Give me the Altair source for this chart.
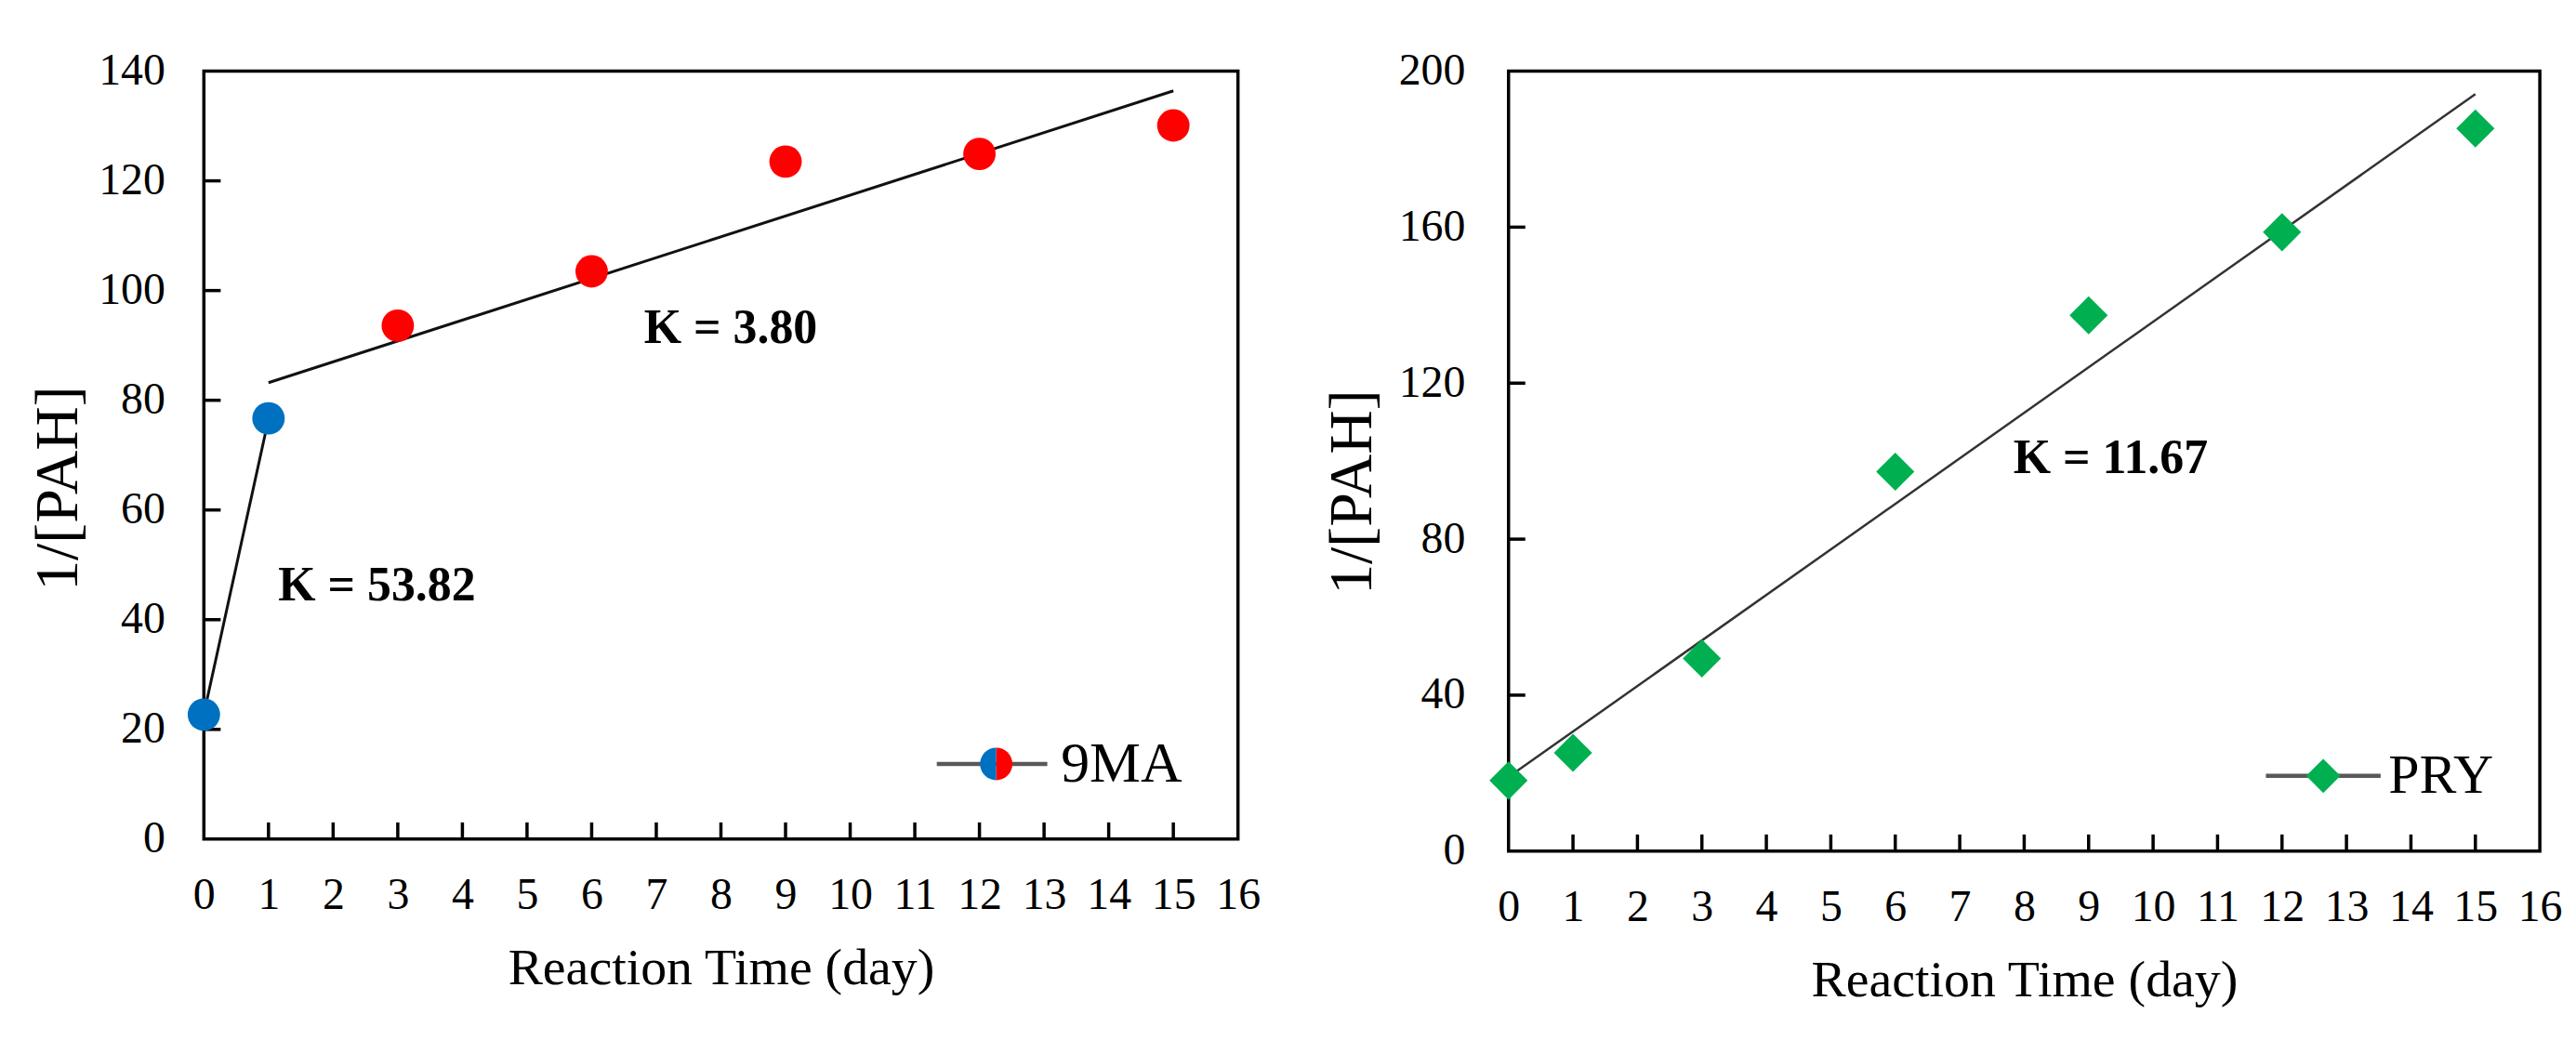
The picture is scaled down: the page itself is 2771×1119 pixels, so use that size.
import altair as alt
import pandas as pd

# values
DAYS = [0, 1, 3, 6, 9, 12, 15]
MA9 = [22.7, 76.7, 93.6, 103.5, 123.5, 124.9, 130.1]
MA9_STAGE = ["fast", "fast", "slow", "slow", "slow", "slow", "slow"]
PRY = [18.1, 25.2, 49.4, 97.3, 137.4, 158.7, 185.3]

MA9_FAST_FIT_X = [0, 1]
MA9_FAST_FIT_Y = [22.8, 76.6]
MA9_SLOW_FIT_X = [1, 15]
MA9_SLOW_FIT_Y = [83.2, 136.4]
PRY_FIT_X = [0, 15]
PRY_FIT_Y = [19.0, 194.1]

X_TICKS = list(range(0, 17))
MA9_Y_TICKS = list(range(0, 141, 20))
PRY_Y_TICKS = list(range(0, 201, 40))

SERIF = "Liberation Serif"
BLUE = "#0070C0"
RED = "#FF0000"
GREEN = "#00B050"
LEFT_HALF = "M0,-1A1,1,0,0,0,0,1Z"
RIGHT_HALF = "M0,-1A1,1,0,0,1,0,1Z"


def x_axis():
    return alt.Axis(
        values=X_TICKS, format="d", title="Reaction Time (day)", ticks=False,
        tickSize=0, domain=False, grid=False, labelFont=SERIF,
        labelFontSize=48, labelColor="black", labelPadding=75,
        labelBaseline="alphabetic", labelFlush=False, labelOverlap=False,
        titleFont=SERIF, titleFontSize=56, titleFontWeight="normal",
        titleColor="black", titleBaseline="alphabetic", titleY=156,
    )


def y_axis(values, label_pad, title_x, title_y):
    return alt.Axis(
        values=values, format="d", title="1/[PAH]", ticks=False, tickSize=0,
        domain=False, grid=False, labelFont=SERIF, labelFontSize=48,
        labelColor="black", labelPadding=label_pad, labelFlush=False,
        labelOverlap=False, titleFont=SERIF, titleFontSize=66,
        titleFontWeight="normal", titleColor="black", titleAngle=-90,
        titleBaseline="middle", titleAlign="center", titleX=title_x,
        titleY=title_y,
    )


def frame_ticks(x_sc, y_sc, y_values, height, label_pad, title_x, title_y):
    # inward ticks drawn as short line segments; the first two layers carry the axes
    xt = alt.Chart(pd.DataFrame({"day": X_TICKS[1:-1]})).mark_rule(
        color="black", strokeWidth=3.5
    ).encode(
        x=alt.X("day:Q", scale=x_sc, axis=x_axis()),
        y=alt.value(height), y2=alt.value(height - 18),
    )
    y_holder = alt.Chart(pd.DataFrame({"v": [y_values[0], y_values[-1]]})).mark_point(
        opacity=0
    ).encode(
        y=alt.Y("v:Q", scale=y_sc, axis=y_axis(y_values, label_pad, title_x, title_y)),
        x=alt.value(0),
    )
    # each y tick is a segment from day 0 to day 0.26 at a constant value
    inner = y_values[1:-1]
    yt = alt.Chart(pd.DataFrame({
        "day": [0.0] * len(inner), "day2": [0.26] * len(inner),
        "v": inner, "v2": inner,
    })).mark_rule(color="black", strokeWidth=3.5).encode(
        x="day:Q", x2="day2:Q", y="v:Q", y2="v2:Q",
    )
    return [xt, y_holder, yt]


def fit_line(xs, ys, color, width):
    return alt.Chart(pd.DataFrame({"day": xs, "v": ys})).mark_line(
        color=color, strokeWidth=width
    ).encode(x="day:Q", y="v:Q")


def k_label(x, y, text):
    return alt.Chart(pd.DataFrame({"day": [x], "v": [y], "s": [text]})).mark_text(
        font=SERIF, fontSize=52, fontWeight="bold", align="left",
        baseline="middle", color="black"
    ).encode(x="day:Q", y="v:Q", text="s:N")


# ---- 9MA panel
W1, H1 = 1116, 829
x1 = alt.Scale(domain=[0, 16], nice=False, zero=False)
y1 = alt.Scale(domain=[0, 140], nice=False)

ma9 = pd.DataFrame({"day": DAYS, "v": MA9, "stage": MA9_STAGE})
ma9_points = alt.Chart(ma9).mark_point(filled=True, opacity=1, size=1225).encode(
    x="day:Q",
    y="v:Q",
    color=alt.Color("stage:N", scale=alt.Scale(domain=["fast", "slow"], range=[BLUE, RED]), legend=None),
)

ma9_key_line = alt.Chart(pd.DataFrame({"day": [11.34, 13.05], "v": [13.7, 13.7]})).mark_line(
    color="#595959", strokeWidth=4.5
).encode(x="day:Q", y="v:Q")
key_pt = pd.DataFrame({"day": [12.26], "v": [13.7]})
ma9_key_left = alt.Chart(key_pt).mark_point(
    shape=LEFT_HALF, filled=True, opacity=1, size=1225, color=BLUE
).encode(x="day:Q", y="v:Q")
ma9_key_right = alt.Chart(key_pt).mark_point(
    shape=RIGHT_HALF, filled=True, opacity=1, size=1225, color=RED
).encode(x="day:Q", y="v:Q")
ma9_key_text = alt.Chart(pd.DataFrame({"day": [13.26], "v": [13.7], "s": ["9MA"]})).mark_text(
    font=SERIF, fontSize=62, align="left", baseline="middle", color="black"
).encode(x="day:Q", y="v:Q", text="s:N")

left = alt.layer(
    *frame_ticks(x1, y1, MA9_Y_TICKS, H1, 42, -157, 450),
    fit_line(MA9_FAST_FIT_X, MA9_FAST_FIT_Y, "#111111", 3),
    fit_line(MA9_SLOW_FIT_X, MA9_SLOW_FIT_Y, "#111111", 3),
    ma9_points,
    k_label(6.81, 93.2, "K = 3.80"),
    k_label(1.15, 46.3, "K = 53.82"),
    ma9_key_line, ma9_key_left, ma9_key_right, ma9_key_text,
).properties(width=W1, height=H1)

# ---- PRY panel
W2, H2 = 1113, 842
x2 = alt.Scale(domain=[0, 16], nice=False, zero=False)
y2 = alt.Scale(domain=[0, 200], nice=False)

pry = pd.DataFrame({"day": DAYS, "v": PRY})
pry_points = alt.Chart(pry).mark_point(
    shape="diamond", filled=True, opacity=1, size=1700, color=GREEN
).encode(x="day:Q", y="v:Q")

pry_key_line = alt.Chart(pd.DataFrame({"day": [11.75, 13.53], "v": [19.3, 19.3]})).mark_line(
    color="#595959", strokeWidth=4.5
).encode(x="day:Q", y="v:Q")
pry_key_pt = alt.Chart(pd.DataFrame({"day": [12.64], "v": [19.3]})).mark_point(
    shape="diamond", filled=True, opacity=1, size=1369, color=GREEN
).encode(x="day:Q", y="v:Q")
pry_key_text = alt.Chart(pd.DataFrame({"day": [13.65], "v": [19.3], "s": ["PRY"]})).mark_text(
    font=SERIF, fontSize=60, align="left", baseline="middle", color="black"
).encode(x="day:Q", y="v:Q", text="s:N")

right = alt.layer(
    *frame_ticks(x2, y2, PRY_Y_TICKS, H2, 47, -169, 454),
    fit_line(PRY_FIT_X, PRY_FIT_Y, "#333333", 2.5),
    pry_points,
    k_label(7.83, 100.7, "K = 11.67"),
    pry_key_line, pry_key_pt, pry_key_text,
).properties(width=W2, height=H2)

chart = (
    alt.hconcat(left, right, spacing=62)
    .configure(padding={"left": 20, "top": 41, "right": 5, "bottom": 5})
    .configure_view(stroke="black", strokeWidth=3.5)
)

chart.save("out.html", embed_options={"renderer": "svg", "actions": False})
